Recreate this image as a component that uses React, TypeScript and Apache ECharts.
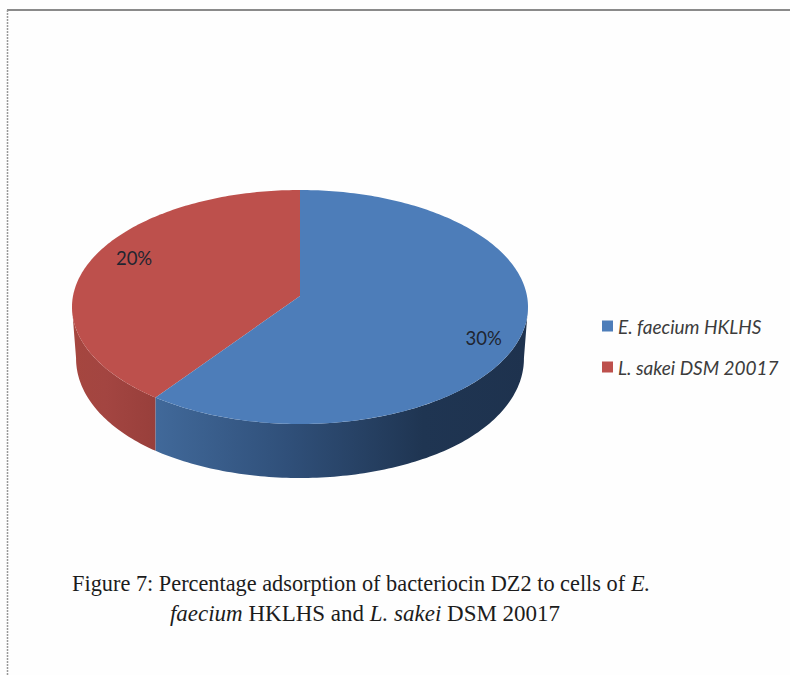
import React, { useEffect, useRef } from "react";
import * as echarts from "echarts";

const sliceNames = ["E. faecium HKLHS", "L. sakei DSM 20017"];
const sliceValues = [30, 20];
const sliceLabels = ["30%", "20%"];
const topColors = ["#4d7db9", "#bd504c"];
const labelShift = [[0, 12], [9, -9]];

// Tilted disc: an ellipse for the lid, a second one for the base rim,
// with a projective skew that moves the pie's hub above the ellipse centre.
// The base tapers inward only towards its far left and right ends, so seams stay vertical.
const lid = { cx: 300, cy: 307, rx: 228, ry: 117, taper: 0 };
const base = { cx: 300, cy: 358, rx: 228, ry: 120, taper: 0.018 };
const skew = -0.094;
const labelRadius = 0.83;
const rad = Math.PI / 180;

const total = sliceValues.reduce((a, b) => a + b, 0);

function project(e: typeof lid, deg: number, r = 1): number[] {
  const u = Math.sin(deg * rad) * r;
  const v = -Math.cos(deg * rad) * r;
  const d = 1 + skew * v;
  const narrow = 1 - (e.taper * Math.max(0, Math.abs(u) - 0.6)) / 0.4;
  return [
    e.cx + (e.rx * narrow * u * Math.sqrt(1 - skew * skew)) / d,
    e.cy + (e.ry * (v + skew)) / d,
  ];
}

function arc(e: typeof lid, from: number, to: number): number[][] {
  const steps = Math.max(2, Math.ceil(Math.abs(to - from)));
  const pts: number[][] = [];
  for (let i = 0; i <= steps; i++) pts.push(project(e, from + ((to - from) * i) / steps));
  return pts;
}

function sliceSpan(index: number): [number, number] {
  let start = 0;
  for (let i = 0; i < index; i++) start += (sliceValues[i] / total) * 360;
  return [start, start + (sliceValues[index] / total) * 360];
}

// Angles between these two are the rim that faces the viewer.
const rimFrom = Math.acos(skew) / rad;
const rimTo = 360 - rimFrom;

function sideGradient(index: number) {
  const stops =
    index === 0
      ? { x: 155, x2: 527, colors: [[0, "#41699a"], [0.35, "#30507a"], [0.72, "#1f3552"], [1, "#1e324e"]] }
      : { x: 72, x2: 156, colors: [[0, "#a5463f"], [0.4, "#a34541"], [1, "#983f3b"]] };
  return new echarts.graphic.LinearGradient(
    stops.x,
    0,
    stops.x2,
    0,
    stops.colors.map(([offset, color]) => ({ offset: offset as number, color: color as string })),
    true
  );
}

function renderSlice(index: number) {
  const [start, end] = sliceSpan(index);
  const children: any[] = [];
  const sideFrom = Math.max(start, rimFrom);
  const sideTo = Math.min(end, rimTo);
  if (sideTo > sideFrom) {
    const upper = arc(lid, sideFrom, sideTo);
    const lower = arc(base, sideFrom, sideTo).reverse();
    children.push({
      type: "polygon",
      shape: { points: upper.concat(lower) },
      style: { fill: sideGradient(index) },
    });
  }
  const hub = project(lid, 0, 0);
  children.push({
    type: "polygon",
    shape: { points: [hub].concat(arc(lid, start, end)) },
    style: { fill: topColors[index] },
  });
  const mid = project(lid, (start + end) / 2, labelRadius);
  children.push({
    type: "text",
    x: mid[0] + labelShift[index][0],
    y: mid[1] + labelShift[index][1],
    style: {
      text: sliceLabels[index],
      fontFamily: "Lato",
      fontSize: 18.5,
      fill: "#1f2530",
      align: "center",
      verticalAlign: "middle",
    },
  });
  return { type: "group", children };
}

// The rim of the later slice is drawn first so the blue lid sits on top of it.
const drawOrder = [1, 0];

const captionRich = {
  r: { fontFamily: "Liberation Serif", fontSize: 24, fill: "#1c1c1c" },
  i: { fontFamily: "Liberation Serif", fontStyle: "italic", fontSize: 24, fill: "#1c1c1c" },
};

const option: any = {
  animation: false,
  backgroundColor: "#fefefe",
  legend: {
    left: 597,
    top: 311.5,
    orient: "vertical",
    itemWidth: 11,
    itemHeight: 11,
    itemGap: 22,
    icon: "rect",
    data: sliceNames,
    textStyle: {
      fontFamily: "Lato",
      fontStyle: "italic",
      fontSize: 19,
      color: "#3c3c3c",
    },
  },
  series: drawOrder.map((i) => ({
    type: "custom",
    name: sliceNames[i],
    coordinateSystem: "none",
    itemStyle: { color: topColors[i] },
    data: [sliceValues[i]],
    renderItem: () => renderSlice(i),
  })),
  graphic: [
    // Page frame: solid along the top, dotted down the left side.
    {
      type: "line",
      shape: { x1: 7, y1: 10, x2: 790, y2: 10 },
      style: { stroke: "#8a8a8a", lineWidth: 2 },
    },
    {
      type: "line",
      shape: { x1: 7.5, y1: 10, x2: 7.5, y2: 675 },
      style: { stroke: "#999999", lineWidth: 1.5, lineDash: [2, 1] },
    },
    {
      type: "text",
      x: 361,
      y: 583,
      scaleX: 0.93,
      style: {
        text: "{r|Figure 7: Percentage adsorption of bacteriocin DZ2 to cells of }{i|E.}",
        align: "center",
        verticalAlign: "middle",
        rich: captionRich,
      },
    },
    {
      type: "text",
      x: 365,
      y: 613,
      scaleX: 0.958,
      style: {
        text: "{i|faecium }{r|HKLHS and }{i|L. sakei }{r|DSM 20017}",
        align: "center",
        verticalAlign: "middle",
        rich: captionRich,
      },
    },
  ],
};

export default function App() {
  const ref = useRef<HTMLDivElement>(null);
  useEffect(() => {
    document.body.style.margin = "0";
    const chart = echarts.init(ref.current!, null, { renderer: "svg" });
    chart.setOption(option);
    return () => chart.dispose();
  }, []);
  return <div ref={ref} style={{ width: 790, height: 675 }} />;
}
